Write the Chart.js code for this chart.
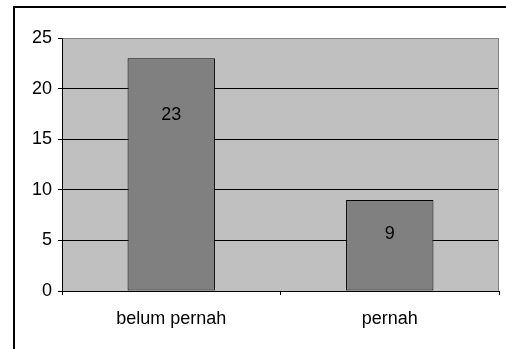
<!DOCTYPE html>
<html>
<head>
<meta charset="utf-8">
<script src="https://cdn.jsdelivr.net/npm/chart.js@4"></script>
<style>
  html, body { margin: 0; padding: 0; background: #ffffff; }
  #wrap { width: 506px; height: 349px; }
</style>
</head>
<body>
<div id="wrap"><canvas id="c" width="506" height="349"></canvas></div>
<script>
// Responses per category
const categories = ['belum pernah', 'pernah'];
const counts = [23, 9];
const yTickValues = [0, 5, 10, 15, 20, 25];

const FONT = { family: '"Liberation Sans", Arial, sans-serif', size: 18 };

// Grey plot background, thin grey frame, and the outer black chart border
const framePlugin = {
  id: 'frame',
  beforeDraw(chart) {
    const { ctx, chartArea: a } = chart;
    ctx.save();
    ctx.fillStyle = '#ffffff';
    ctx.fillRect(0, 0, chart.width, chart.height);
    ctx.fillStyle = '#c0c0c0';
    ctx.fillRect(a.left, a.top, a.right - a.left, a.bottom - a.top);
    ctx.restore();
  },
  beforeDatasetsDraw(chart) {
    const { ctx, chartArea: a } = chart;
    ctx.save();
    ctx.strokeStyle = '#808080';
    ctx.lineWidth = 1;
    ctx.beginPath();
    ctx.moveTo(Math.round(a.left) + 0.5, Math.round(a.top) + 0.5);
    ctx.lineTo(Math.round(a.right) - 0.5, Math.round(a.top) + 0.5);
    ctx.lineTo(Math.round(a.right) - 0.5, Math.round(a.bottom));
    ctx.stroke();
    ctx.restore();
  },
  afterDraw(chart) {
    const { ctx } = chart;
    ctx.save();
    ctx.strokeStyle = '#000000';
    ctx.lineWidth = 2;
    ctx.strokeRect(14, 7, chart.width + 20, chart.height + 20);
    ctx.restore();
  }
};

// Value labels written inside each bar
const valueLabels = {
  id: 'valueLabels',
  afterDatasetsDraw(chart, args, opts) {
    const { ctx } = chart;
    const meta = chart.getDatasetMeta(0);
    ctx.save();
    ctx.font = `${FONT.size}px ${FONT.family}`;
    ctx.fillStyle = '#000000';
    ctx.textAlign = 'center';
    ctx.textBaseline = 'middle';
    meta.data.forEach((bar, i) => {
      const v = chart.data.datasets[0].data[i];
      ctx.fillText(String(v), bar.x, bar.y + opts.drop[i]);
    });
    ctx.restore();
  }
};

new Chart(document.getElementById('c'), {
  type: 'bar',
  data: {
    labels: categories,
    datasets: [{
      data: counts,
      backgroundColor: '#808080',
      borderColor: '#000000',
      borderWidth: 1,
      borderSkipped: false,
      barPercentage: 0.4,
      categoryPercentage: 1.0
    }]
  },
  options: {
    responsive: false,
    animation: false,
    devicePixelRatio: 1,
    layout: { padding: { top: 38, right: 7, left: 0, bottom: 0 } },
    plugins: {
      legend: { display: false },
      tooltip: { enabled: false },
      valueLabels: { drop: [57, 34] }
    },
    scales: {
      x: {
        offset: true,
        grid: {
          offset: true,
          drawOnChartArea: false,
          tickLength: 4,
          tickColor: '#000000'
        },
        border: { display: true, color: '#000000', width: 1 },
        ticks: { color: '#000000', font: FONT, padding: 13, maxRotation: 0 },
        afterFit(scale) { scale.height = 58; }
      },
      y: {
        min: 0,
        max: 25,
        afterBuildTicks(scale) { scale.ticks = yTickValues.map(v => ({ value: v })); },
        grid: {
          color: ctx => (ctx.tick && ctx.tick.value === 25 ? '#808080' : '#000000'),
          tickColor: '#000000',
          tickLength: 4
        },
        border: { display: true, color: '#000000', width: 1 },
        ticks: { color: '#000000', font: FONT, padding: 6 },
        afterFit(scale) { scale.width = 62; }
      }
    }
  },
  plugins: [framePlugin, valueLabels]
});
</script>
</body>
</html>
